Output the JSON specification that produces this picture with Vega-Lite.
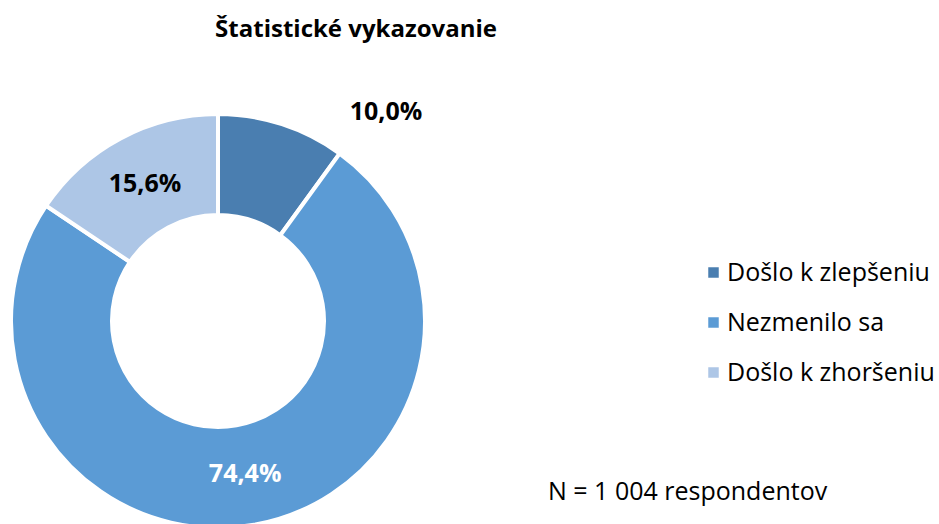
{
  "$schema": "https://vega.github.io/schema/vega-lite/v6.json",
  "background": "white",
  "padding": {"left": 0, "top": 18, "right": 0, "bottom": 0},
  "config": {"view": {"stroke": null}, "font": "Open Sans"},
  "title": {"text": "N = 1 004 respondentov", "orient": "bottom", "anchor": "start", "font": "Open Sans", "fontSize": 25, "fontWeight": "normal", "color": "#000000", "dx": 548, "dy": -107},
  "data": {"values": [
    {"kat": "Došlo k zlepšeniu", "hodnota": 10.0, "poradie": 1, "popis": "10,0%"},
    {"kat": "Nezmenilo sa", "hodnota": 74.4, "poradie": 2, "popis": "74,4%"},
    {"kat": "Došlo k zhoršeniu", "hodnota": 15.6, "poradie": 3, "popis": "15,6%"}
  ]},
  "vconcat": [
    {
      "width": 436,
      "height": 524,
      "title": {"text": "Štatistické vykazovanie", "anchor": "middle", "dx": 138, "font": "Open Sans", "fontSize": 24, "fontWeight": "bold", "color": "#000000", "offset": 17},
      "layer": [
        {
          "mark": {"type": "arc", "outerRadius": 207, "innerRadius": 106, "stroke": "#ffffff", "strokeWidth": 4},
          "encoding": {
            "theta": {"field": "hodnota", "type": "quantitative", "stack": true},
            "order": {"field": "poradie", "type": "quantitative"},
            "color": {"field": "kat", "type": "nominal",
              "scale": {"domain": ["Došlo k zlepšeniu", "Nezmenilo sa", "Došlo k zhoršeniu"], "range": ["#4A7EB0", "#5B9BD5", "#ADC6E6"]},
              "legend": {"title": null, "orient": "none", "legendX": 701, "legendY": 201, "symbolType": "square", "symbolSize": 110, "symbolStrokeWidth": 0, "labelFontSize": 25, "labelFont": "Open Sans", "labelColor": "#000000", "labelOffset": 1, "labelLimit": 400, "rowPadding": 24, "padding": 0}
            }
          }
        },
        {
          "mark": {"type": "text", "radius": 155, "fontSize": 25, "fontWeight": "bold", "font": "Open Sans"},
          "encoding": {
            "theta": {"field": "hodnota", "type": "quantitative", "stack": true},
            "order": {"field": "poradie", "type": "quantitative"},
            "detail": {"field": "kat", "type": "nominal"},
            "text": {"field": "popis", "type": "nominal"},
            "color": {"condition": {"test": "datum.kat === 'Nezmenilo sa'", "value": "#ffffff"}, "value": "#000000"},
            "opacity": {"condition": {"test": "datum.kat === 'Došlo k zlepšeniu'", "value": 0}, "value": 1}
          }
        },
        {
          "mark": {"type": "text", "radius": 220, "dx": 100, "fontSize": 25, "fontWeight": "bold", "font": "Open Sans"},
          "encoding": {
            "theta": {"field": "hodnota", "type": "quantitative", "stack": true},
            "order": {"field": "poradie", "type": "quantitative"},
            "detail": {"field": "kat", "type": "nominal"},
            "text": {"field": "popis", "type": "nominal"},
            "color": {"value": "#000000"},
            "opacity": {"condition": {"test": "datum.kat === 'Došlo k zlepšeniu'", "value": 1}, "value": 0}
          }
        }
      ]
    }
  ]
}
